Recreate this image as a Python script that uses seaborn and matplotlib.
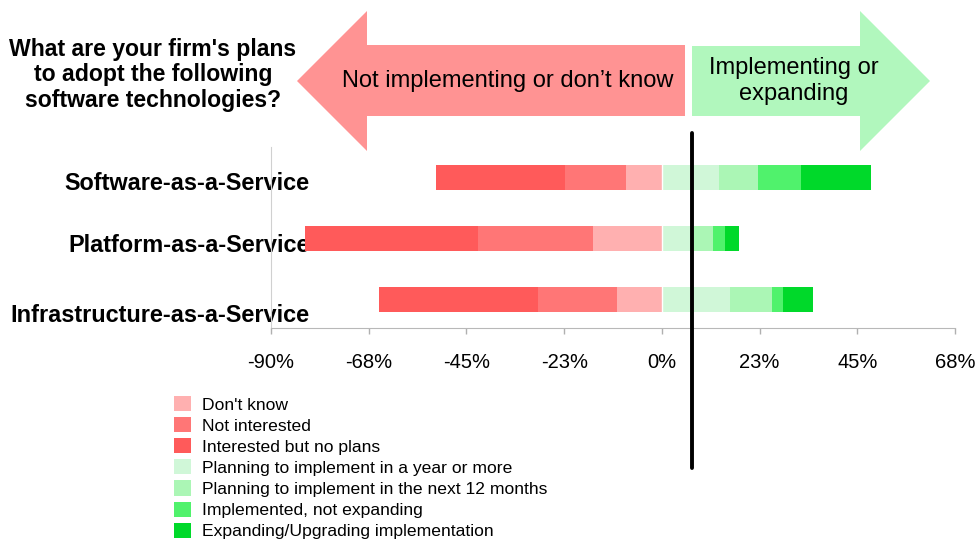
import numpy as np
import pandas as pd
import matplotlib
matplotlib.use("Agg")
import matplotlib.pyplot as plt
import matplotlib.transforms as mtransforms
from matplotlib.patches import Polygon, Patch
import seaborn as sns

# ── Data (percent of respondents) ─────────────────────────────────────────────
techs = ["Software-as-a-Service", "Platform-as-a-Service", "Infrastructure-as-a-Service"]
dont_know           = [8.3, 15.9, 10.4]
not_interested      = [14.0, 26.5, 18.2]
interested_no_plans = [29.7, 39.8, 36.6]
plan_year_plus      = [13.1, 7.4, 15.7]
plan_12_months      = [9.0, 4.4, 9.7]
implemented         = [9.9, 2.8, 2.5]
expanding           = [16.1, 3.2, 6.9]

divider = 7.0   # the black reference line

xticks      = [-90, -67.5, -45, -22.5, 0, 22.5, 45, 67.5]
xticklabels = ["-90%", "-68%", "-45%", "-23%", "0%", "23%", "45%", "68%"]

series = ["Don't know", "Not interested", "Interested but no plans",
          "Planning to implement in a year or more",
          "Planning to implement in the next 12 months",
          "Implemented, not expanding",
          "Expanding/Upgrading implementation"]
colors = ["#ffb0b0", "#ff7676", "#ff5a5a", "#d0f7d8", "#abf6b5", "#50f26c", "#00d92a"]
col = dict(zip(series, colors))

# ── Cumulative ends so overlaid bars form the diverging stack ─────────────────
dk  = np.array(dont_know)
ni  = dk + np.array(not_interested)
ip  = ni + np.array(interested_no_plans)
py  = np.array(plan_year_plus)
p12 = py + np.array(plan_12_months)
imp = p12 + np.array(implemented)
exp = imp + np.array(expanding)

# draw order: longest first, shorter ones on top
layers = [("Interested but no plans", -ip), ("Not interested", -ni), ("Don't know", -dk),
          ("Expanding/Upgrading implementation", exp), ("Implemented, not expanding", imp),
          ("Planning to implement in the next 12 months", p12),
          ("Planning to implement in a year or more", py)]
df = pd.concat([pd.DataFrame({"tech": techs, "series": name, "end": vals})
                for name, vals in layers], ignore_index=True)

# ── Plot ──────────────────────────────────────────────────────────────────────
sns.set_style("white")
plt.rcParams["font.family"] = ["Liberation Sans", "DejaVu Sans"]
plt.rcParams["text.color"] = "black"
plt.rcParams["xtick.color"] = "#b0b0b0"
plt.rcParams["xtick.labelcolor"] = "black"
plt.rcParams["ytick.labelcolor"] = "black"

W, H = 978, 542
fig = plt.figure(figsize=(W / 100, H / 100), dpi=100)
ax = fig.add_axes([271 / W, 1 - 328 / H, (955 - 271) / W, (328 - 147) / H])

sns.barplot(data=df, x="end", y="tech", hue="series", hue_order=[l[0] for l in layers],
            palette=col, saturation=1, dodge=False, orient="h", width=0.41,
            errorbar=None, legend=False, linewidth=0, ax=ax)
ax.axvline(0, color="white", lw=1, ymin=0.02, ymax=0.98)

ax.set_xlim(-90, 67.5)
ax.set_ylim(2.47, -0.5)
ax.set_xticks(xticks)
ax.set_xticklabels(xticklabels, fontsize=14.5)
ax.set_xlabel(""); ax.set_ylabel("")
ax.tick_params(axis="x", direction="out", length=4, width=1, pad=14, bottom=True)
ax.tick_params(axis="y", length=0, pad=0)
ax.set_yticklabels(techs, fontsize=16.9, fontweight="bold")
for lab, dy in zip(ax.get_yticklabels(), [4, 5, 14]):
    lab.set_transform(lab.get_transform() +
                      mtransforms.ScaledTranslation(39 / 100, -dy / 100, fig.dpi_scale_trans))
for s in ["top", "right"]:
    ax.spines[s].set_visible(False)
ax.spines["left"].set_color("#d0d0d0")
ax.spines["bottom"].set_color("#b8b8b8")

# black divider line, runs past the axes
blend = mtransforms.blended_transform_factory(ax.transData, fig.transFigure)
ax.plot([divider, divider], [1 - 133 / H, 1 - 468 / H], color="black", lw=2.8,
        transform=blend, clip_on=False, zorder=5)

# ── Header arrows ─────────────────────────────────────────────────────────────
def fpx(pts):
    return [(x / W, 1 - y / H) for x, y in pts]

red_arrow = [(297, 81), (367, 11), (367, 45), (685, 45), (685, 116), (367, 116), (367, 151)]
green_arrow = [(692, 46), (860, 46), (860, 11), (930, 81), (860, 151), (860, 116), (692, 116)]
fig.add_artist(Polygon(fpx(red_arrow), closed=True, facecolor="#ff9393", edgecolor="none",
                       transform=fig.transFigure))
fig.add_artist(Polygon(fpx(green_arrow), closed=True, facecolor="#b1f7bd", edgecolor="none",
                       transform=fig.transFigure))
fig.text(508 / W, 1 - 81 / H, "Not implementing or don\u2019t know", fontsize=17,
         ha="center", va="center")
fig.text(794 / W, 1 - 81 / H, "Implementing or\nexpanding", fontsize=17,
         ha="center", va="center", linespacing=1.25)

fig.text(153 / W, 1 - 75 / H, "What are your firm's plans\nto adopt the following\nsoftware technologies?",
         fontsize=16.6, fontweight="bold", ha="center", va="center", linespacing=1.15)

# ── Legend ────────────────────────────────────────────────────────────────────
handles = [Patch(facecolor=col[s], edgecolor="none") for s in series]
fig.legend(handles, series, loc="upper left", bbox_to_anchor=(174 / W, 1 - 396 / H),
           frameon=False, fontsize=12.6, handlelength=0.95, handleheight=0.95,
           handletextpad=0.65, labelspacing=0.26, borderpad=0, borderaxespad=0)

fig.savefig("out.png", dpi=100)
